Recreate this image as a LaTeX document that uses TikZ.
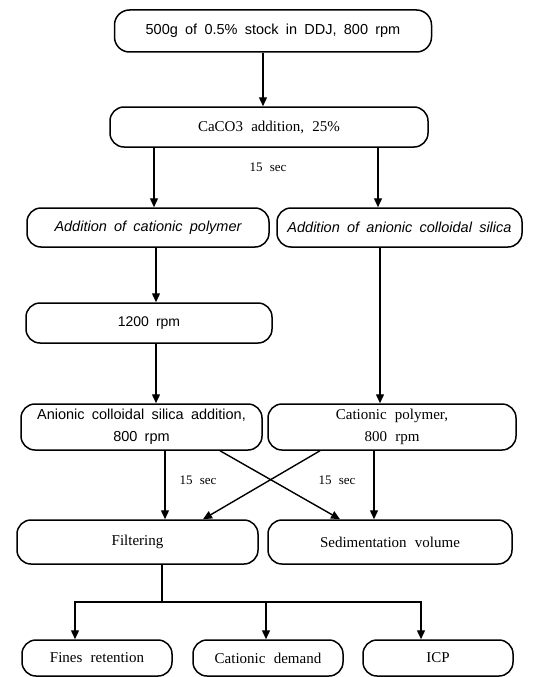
\documentclass[tikz,border=0pt]{standalone}
\usepackage{fontspec}
\setmainfont{Liberation Serif}[WordSpace=2.2]
\newfontfamily\sansfont{Liberation Sans}[WordSpace=1.8]
\usetikzlibrary{arrows.meta, positioning}
\tikzset{
  stage/.style={draw, rounded corners=14pt, inner sep=0pt, align=center,
    line width=1.5pt},
  sanslbl/.style={font=\sansfont\fontsize{14.5}{22}\selectfont},
  itlbl/.style={font=\sansfont\itshape\fontsize{14.5}{22}\selectfont},
  seriflbl/.style={font=\fontsize{15}{22}\selectfont},
  flow/.style={-{Triangle[length=9pt, width=8pt]}, line width=1.4pt},
  netline/.style={line width=1.4pt},
  tag/.style={font=\fontsize{13}{15}\selectfont, inner sep=1pt}
}
\begin{document}
\begin{tikzpicture}[x=1pt, y=1pt]
  \useasboundingbox (0,0) rectangle (533,-677);
  % process steps
  \node[stage, sanslbl, minimum width=317pt, minimum height=42pt, rounded corners=15pt]
    (stock) at (273,-31) {500g of 0.5\% stock in DDJ, 800 rpm};
  \node[stage, seriflbl, minimum width=318pt, minimum height=40pt]
    (caco) at (269,-127) {CaCO3 addition, 25\%};
  \node[stage, itlbl, minimum width=242pt, minimum height=39pt]
    (catpoly) at (148,-227.5) {Addition of cationic polymer};
  \node[stage, itlbl, minimum width=245pt, minimum height=39pt]
    (anisil) at (399.5,-227.5) {Addition of anionic colloidal silica};
  \node[stage, font=\sansfont\fontsize{14}{16}\selectfont, minimum width=246pt, minimum height=40pt]
    (rpm) at (149,-323) {1200 rpm};
  \node[stage, sanslbl, minimum width=241pt, minimum height=46pt]
    (anisiladd) at (141.5,-427) {Anionic colloidal silica addition,\\800 rpm};
  \node[stage, seriflbl, minimum width=248pt, minimum height=46pt]
    (catpolyadd) at (392,-427) {Cationic polymer,\\800 rpm};
  \node[stage, seriflbl, minimum width=241pt, minimum height=44pt]
    (filter) at (137.5,-542) {Filtering};
  \node[stage, seriflbl, minimum width=244pt, minimum height=44pt]
    (sediment) at (390,-542) {Sedimentation volume};
  % measurements
  \node[stage, seriflbl, minimum width=150pt, minimum height=36pt]
    (fines) at (97,-658) {Fines retention};
  \node[stage, seriflbl, minimum width=150pt, minimum height=36pt]
    (demand) at (268,-658) {Cationic demand};
  \node[stage, seriflbl, minimum width=150pt, minimum height=36pt]
    (icp) at (438,-658) {ICP};
  % time tags
  \node[tag] (tagA) at (268,-167) {15 sec};
  \node[tag] (tagB) at (198,-480) {15 sec};
  \node[tag] (tagC) at (337,-480) {15 sec};
  \coordinate (split) at (162,-602);
  % connectors
  \draw[flow] ([xshift=-10pt]stock.south) -- ([xshift=-6pt]caco.north);
  \draw[flow] ([xshift=-115pt]caco.south) -- ([xshift=6pt]catpoly.north);
  \draw[flow] ([xshift=109pt]caco.south) -- ([xshift=-21.5pt]anisil.north);
  \draw[flow] ([xshift=8pt]catpoly.south) -- ([xshift=7pt]rpm.north);
  \draw[flow] ([xshift=7pt]rpm.south) -- ([xshift=14.5pt]anisiladd.north);
  \draw[flow] ([xshift=-19.5pt]anisil.south) -- ([xshift=-12pt]catpolyadd.north);
  \draw[flow] ([xshift=23.5pt]anisiladd.south) -- ([xshift=27.5pt]filter.north);
  \draw[flow] ([xshift=-18pt]catpolyadd.south) -- ([xshift=-16pt]sediment.north);
  \draw[flow] ([xshift=78.5pt]anisiladd.south) -- ([xshift=-50pt]sediment.north);
  \draw[flow] ([xshift=-72pt]catpolyadd.south) -- ([xshift=65.5pt]filter.north);
  \draw[netline] ([xshift=24.5pt]filter.south) -- (split);
  \draw[flow] (split) -| ([xshift=-22pt]fines.north);
  \draw[flow] (split) -| ([xshift=-2pt]demand.north);
  \draw[flow] (split) -| ([xshift=-17pt]icp.north);
\end{tikzpicture}
\end{document}
